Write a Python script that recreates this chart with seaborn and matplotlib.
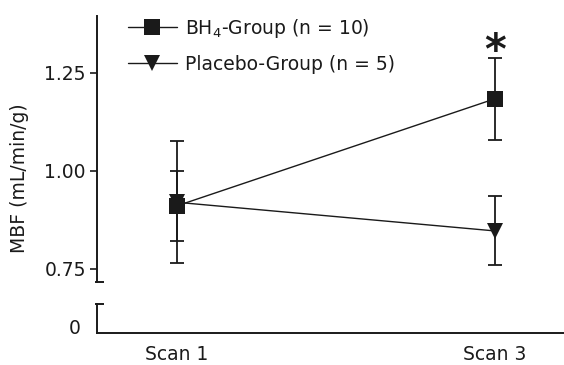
import matplotlib
matplotlib.use("Agg")
import matplotlib.pyplot as plt
import seaborn as sns
import pandas as pd
import numpy as np

scans = ["Scan 1", "Scan 3"]
bh4_mean = [0.911, 1.184]
bh4_err = [0.09, 0.105]
pla_mean = [0.920, 0.847]
pla_err = [0.156, 0.088]
groups = [r"BH$_\mathregular{4}$-Group (n = 10)", "Placebo-Group (n = 5)"]

sns.set_theme(style="ticks")
plt.rcParams["font.family"] = ["DejaVu Sans"]
FS = 13.5
plt.rcParams["font.size"] = FS
INK = "#1a1a1a"

fig = plt.figure(figsize=(5.64, 3.65), dpi=100)
L = 97 / 564
ax = fig.add_axes([L, 1 - 282 / 365, 1 - L, (282 - 16) / 365])
axb = fig.add_axes([L, 1 - 333 / 365, 1 - L, (333 - 304) / 365])

xpos = np.arange(len(scans))
df = pd.DataFrame({
    "x": np.concatenate([xpos, xpos]),
    "MBF": bh4_mean + pla_mean,
    "group": [groups[0]] * 2 + [groups[1]] * 2,
})

for m, e in [(bh4_mean, bh4_err), (pla_mean, pla_err)]:
    ax.errorbar(xpos, m, yerr=e, fmt="none", ecolor=INK, elinewidth=1.3,
                capsize=5, capthick=1.3, zorder=2)

sns.lineplot(data=df, x="x", y="MBF", hue="group", style="group",
             markers={groups[0]: "s", groups[1]: "v"}, dashes=False,
             palette={groups[0]: INK, groups[1]: INK},
             markersize=11, linewidth=1.0, markeredgewidth=0, ax=ax, zorder=3)

ax.set_xlim(-80 / 318, 1 + 69 / 318)
ax.set_ylim(0.7168, 1.395)
ax.set_yticks([0.75, 1.00, 1.25])
ax.set_yticklabels(["0.75", "1.00", "1.25"])
ax.set_xticks([])
ax.set_xlabel("")
ax.set_ylabel("")
for s in ["top", "right", "bottom"]:
    ax.spines[s].set_visible(False)
ax.spines["left"].set_linewidth(1.4)
ax.spines["left"].set_color(INK)
ax.tick_params(axis="y", length=5, width=1.2, color=INK, labelsize=FS,
               labelcolor=INK, pad=3)
ax.plot([-2 / 467, 7 / 467], [0, 0], transform=ax.transAxes, color=INK,
        lw=1.4, clip_on=False, solid_capstyle="butt")

ax.text(1, 1.302, "*", ha="center", va="center", fontsize=30, fontweight="bold",
        color=INK)

leg = ax.legend(loc="upper left", bbox_to_anchor=(0.05, 1.025), frameon=False,
                fontsize=FS, handlelength=2.6, handletextpad=0.45, labelspacing=0.8,
                borderaxespad=0)
for t in leg.get_texts():
    t.set_color(INK)

axb.set_xlim(-80 / 318, 1 + 69 / 318)
axb.set_ylim(-0.06, 0.23)
axb.set_yticks([0])
axb.set_yticklabels(["0"])
axb.set_xticks(xpos)
axb.set_xticklabels(scans)
axb.tick_params(axis="x", length=0, labelsize=FS, labelcolor=INK, pad=9)
axb.tick_params(axis="y", length=0, labelsize=FS, labelcolor=INK, pad=12)
for s in ["top", "right"]:
    axb.spines[s].set_visible(False)
for s in ["left", "bottom"]:
    axb.spines[s].set_linewidth(1.4)
    axb.spines[s].set_color(INK)
axb.plot([-2 / 467, 7 / 467], [1, 1], transform=axb.transAxes, color=INK,
         lw=1.4, clip_on=False, solid_capstyle="butt")
axb.patch.set_alpha(0)

fig.text(20 / 564, 1 - 178 / 365, "MBF (mL/min/g)", rotation=90, ha="center",
         va="center", fontsize=FS, color=INK)

fig.savefig("out.png", dpi=100)
